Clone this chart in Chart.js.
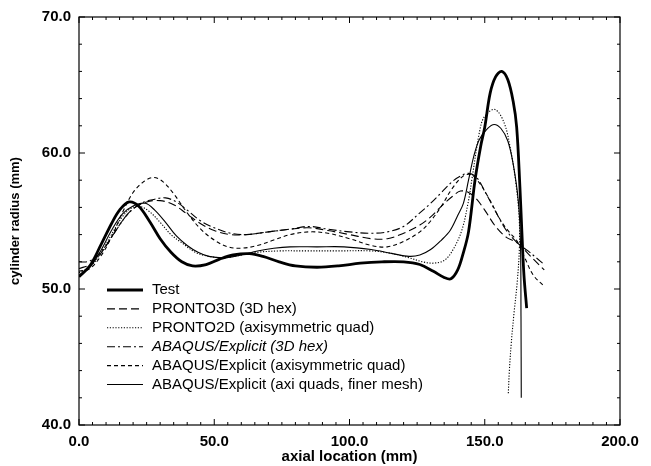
<!DOCTYPE html>
<html>
<head>
<meta charset="utf-8">
<script src="https://cdn.jsdelivr.net/npm/chart.js@4/dist/chart.umd.min.js"></script>
<style>
  html, body { margin: 0; padding: 0; background: #fff; }
  #wrap { width: 651px; height: 466px; }
</style>
</head>
<body>
<div id="wrap"><canvas id="radiusChart"></canvas></div>
<script>
// values (axial location mm -> cylinder radius mm)
const seriesNames = ['Test', 'PRONTO3D (3D hex)', 'PRONTO2D (axisymmetric quad)',
  'ABAQUS/Explicit (3D hex)', 'ABAQUS/Explicit (axisymmetric quad)',
  'ABAQUS/Explicit (axi quads, finer mesh)'];

const testX = [0, 4, 8, 12, 15, 18.5, 22, 26, 30, 34, 38, 42, 47, 52, 57, 63, 68, 74, 80, 88, 96, 104, 112, 120, 126, 131, 135, 137.5, 140, 142, 144, 146.4, 148.5, 150, 152, 154, 156.3, 158.5, 160.5, 161.8, 163, 163.7, 164.5, 165.5];
const testY = [50.9, 51.7, 53.2, 54.8, 55.8, 56.4, 56.1, 55, 53.7, 52.7, 52, 51.7, 51.8, 52.2, 52.5, 52.6, 52.4, 52, 51.7, 51.6, 51.7, 51.9, 52, 52, 51.8, 51.3, 50.85, 50.75, 51.4, 52.6, 54.2, 58.0, 60.5, 61.9, 64.4, 65.6, 66.0, 65.4, 63.8, 61.9, 57.5, 54.3, 51, 48.6];

const pronto3dX = [0, 4, 8, 12, 16, 20, 25, 30, 35, 40, 45, 50, 56, 62, 70, 78, 85, 92, 100, 108, 114, 120, 126, 130, 134, 138, 141, 144, 147, 150, 154, 158, 162, 166, 169, 172];
const pronto3dY = [51.5, 51.8, 52.6, 53.8, 55.0, 55.9, 56.4, 56.5, 56.2, 55.5, 54.8, 54.3, 54.0, 54.0, 54.2, 54.4, 54.5, 54.3, 54.0, 53.7, 53.7, 54.1, 54.7, 55.3, 56.1, 56.8, 57.2, 57.1, 56.6, 55.8, 54.6, 53.8, 53.4, 52.6, 52.0, 51.4];

const pronto2dX = [0, 4, 8, 12, 16, 19, 22, 26, 30, 34, 38, 43, 48, 54, 60, 66, 74, 84, 96, 108, 116, 122, 127, 131, 135, 138, 141.5, 144, 145.2, 148.2, 150, 153.8, 157.2, 159.5, 161.5, 162.7, 162.8, 162, 160.8, 159.8, 159.1, 158.7];
const pronto2dY = [51.2, 51.6, 52.6, 54.0, 55.3, 55.9, 56.1, 55.7, 54.9, 54.0, 53.4, 52.7, 52.4, 52.3, 52.5, 52.7, 52.8, 52.8, 52.8, 52.8, 52.6, 52.3, 52.0, 51.9, 52.1, 52.8, 54.3, 56.5, 58.0, 61.7, 62.7, 63.2, 62.2, 60.3, 57.8, 55.3, 53, 50.5, 48.2, 46, 44, 42.3];

const abaqus3dX = [0, 3, 6, 10, 14, 18, 23, 28, 32, 36, 40, 45, 50, 56, 62, 70, 78, 85, 92, 100, 108, 114, 120, 126, 130, 134, 138, 141, 144, 147, 150, 154, 158, 162, 166, 169, 172];
const abaqus3dY = [52.0, 52.0, 52.3, 53.2, 54.4, 55.5, 56.3, 56.6, 56.7, 56.4, 55.8, 55.0, 54.5, 54.1, 54.0, 54.2, 54.4, 54.6, 54.4, 54.2, 54.1, 54.2, 54.6, 55.6, 56.3, 57.1, 57.9, 58.3, 58.5, 58.2, 57.2, 55.7, 54.3, 53.4, 52.8, 52.3, 51.8];

const abaqusAxiX = [0, 4, 8, 12, 16, 20, 24, 27.5, 31, 35, 40, 45, 50, 55, 60, 66, 72, 78, 85, 92, 100, 108, 114, 120, 126, 130, 134, 138, 142, 145, 148, 152, 156, 159, 162, 165, 168, 172];
const abaqusAxiY = [51.3, 51.5, 52.4, 53.8, 55.6, 57.1, 57.9, 58.2, 57.9, 57.0, 55.6, 54.4, 53.6, 53.1, 53.0, 53.2, 53.6, 54.0, 54.2, 54.1, 53.7, 53.2, 53.1, 53.5, 54.2, 55.0, 56.1, 57.4, 58.3, 58.4, 57.8, 56.5, 55.0, 54.2, 53.5, 52.2, 51.0, 50.2];

const fineX = [0, 4, 8, 12, 16, 20, 24.5, 28, 32, 36, 40, 44, 48, 54, 60, 66, 72, 78, 88, 98, 108, 116, 122, 126, 130, 134, 137.2, 140, 142.1, 144, 146, 148, 151, 153.5, 156, 158.5, 160.5, 162.4, 163.2, 163.4, 163.5];
const fineY = [51.0, 51.6, 52.8, 54.3, 55.5, 56.1, 56.3, 55.8, 54.9, 53.9, 53.2, 52.7, 52.4, 52.3, 52.5, 52.8, 53.0, 53.1, 53.1, 53.1, 52.9, 52.6, 52.4, 52.5, 52.9, 53.6, 54.3, 55.4, 56.3, 58.0, 59.8, 61.0, 61.8, 62.1, 61.8, 60.9, 59.2, 56.5, 53.5, 48, 42];

const xTicks = [0, 50, 100, 150, 200];
const yTicks = [40, 60, 50, 70];

function pts(xs, ys) {
  return xs.map((x, i) => ({ x: x, y: ys[i] }));
}

const styles = [
  { w: 2.8, dash: [] },
  { w: 1.1, dash: [8, 4] },
  { w: 1.1, dash: [1.2, 1.6] },
  { w: 1.1, dash: [8, 3, 2, 3] },
  { w: 1.1, dash: [4, 3] },
  { w: 1.1, dash: [] }
];
const seriesData = [
  pts(testX, testY), pts(pronto3dX, pronto3dY), pts(pronto2dX, pronto2dY),
  pts(abaqus3dX, abaqus3dY), pts(abaqusAxiX, abaqusAxiY), pts(fineX, fineY)
];

const boxAndTicks = {
  id: 'boxAndTicks',
  afterDraw(chart) {
    const { ctx, chartArea: a, scales: { x, y } } = chart;
    ctx.save();
    ctx.strokeStyle = '#000';
    ctx.lineWidth = 1.2;
    ctx.strokeRect(a.left, a.top, a.right - a.left, a.bottom - a.top);
    ctx.lineWidth = 1;
    ctx.beginPath();
    for (let v = 0; v <= 200; v += 5) {
      const px = x.getPixelForValue(v);
      const len = v % 50 === 0 ? 6 : 3;
      ctx.moveTo(px, a.bottom); ctx.lineTo(px, a.bottom - len);
      ctx.moveTo(px, a.top); ctx.lineTo(px, a.top + len);
    }
    for (let v = 40; v <= 70; v += 2) {
      const py = y.getPixelForValue(v);
      const len = v % 10 === 0 ? 6 : 3;
      ctx.moveTo(a.left, py); ctx.lineTo(a.left + len, py);
      ctx.moveTo(a.right, py); ctx.lineTo(a.right - len, py);
    }
    ctx.stroke();

    // legend inside the plot, lower left
    const lx0 = 107, lx1 = 143, tx = 152;
    chart.data.datasets.forEach((ds, i) => {
      const ly = 290 + i * 18.9;
      ctx.beginPath();
      ctx.lineWidth = ds.borderWidth;
      ctx.setLineDash(ds.borderDash);
      ctx.moveTo(lx0, ly); ctx.lineTo(lx1, ly);
      ctx.stroke();
      ctx.setLineDash([]);
      ctx.fillStyle = '#000';
      ctx.font = (i === 3 ? 'italic ' : '') + '15px "Liberation Sans", Arial, sans-serif';
      ctx.textBaseline = 'middle';
      ctx.fillText(ds.label, tx, ly);
    });
    ctx.restore();
  }
};

new Chart(document.getElementById('radiusChart'), {
  type: 'scatter',
  data: {
    datasets: seriesData.map((d, i) => ({
      label: seriesNames[i],
      data: d,
      showLine: true,
      borderColor: '#000',
      backgroundColor: '#000',
      borderWidth: styles[i].w,
      borderDash: styles[i].dash,
      pointRadius: 0,
      tension: 0.35
    }))
  },
  options: {
    responsive: true,
    maintainAspectRatio: false,
    animation: false,
    layout: { padding: { top: 17, right: 31, bottom: 0, left: 0 } },
    plugins: {
      legend: { display: false },
      tooltip: { enabled: false }
    },
    scales: {
      x: {
        type: 'linear',
        min: 0,
        max: 200,
        afterFit(scale) { scale.height = 41; },
        afterBuildTicks(scale) { scale.ticks = xTicks.map(v => ({ value: v })); },
        grid: { display: false, drawTicks: false },
        border: { display: false },
        ticks: {
          padding: 8,
          color: '#000',
          font: { family: '"Liberation Sans", Arial, sans-serif', size: 15, weight: 'bold' },
          callback: v => v.toFixed(1)
        },
        title: {
          display: true,
          text: 'axial location (mm)',
          color: '#000',
          padding: { top: 0, bottom: 0 },
          font: { family: '"Liberation Sans", Arial, sans-serif', size: 15, weight: 'bold' }
        }
      },
      y: {
        type: 'linear',
        min: 40,
        max: 70,
        afterFit(scale) { scale.width = 79; },
        afterBuildTicks(scale) { scale.ticks = yTicks.slice().sort((a, b) => a - b).map(v => ({ value: v })); },
        grid: { display: false, drawTicks: false },
        border: { display: false },
        ticks: {
          padding: 8,
          color: '#000',
          font: { family: '"Liberation Sans", Arial, sans-serif', size: 15, weight: 'bold' },
          callback: v => v.toFixed(1)
        },
        title: {
          display: true,
          text: 'cylinder radius (mm)',
          color: '#000',
          padding: { top: 8, bottom: 0 },
          font: { family: '"Liberation Sans", Arial, sans-serif', size: 13, weight: 'bold' }
        }
      }
    }
  },
  plugins: [boxAndTicks]
});
</script>
</body>
</html>
